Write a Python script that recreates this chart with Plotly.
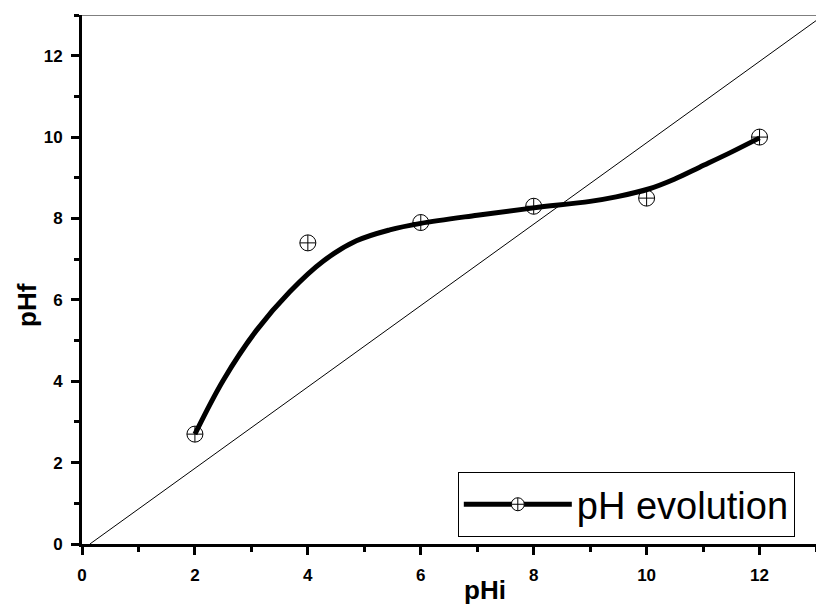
import plotly.graph_objects as go

# measured points
ph_initial = [2, 4, 6, 8, 10, 12]
ph_final = [2.7, 7.4, 7.9, 8.3, 8.5, 10.0]

# smoothed curve
curve_x = [2.0, 2.5, 3.09, 3.68, 4.27, 4.86, 5.45, 6.0, 7.0, 8.0, 9.0, 9.46, 10.05, 10.5, 10.94, 11.5, 12.0]
curve_y = [2.7, 4.02, 5.25, 6.2, 6.95, 7.45, 7.72, 7.88, 8.08, 8.26, 8.42, 8.53, 8.73, 8.97, 9.26, 9.63, 9.98]

# reference diagonal
diag_x = [0.14, 13.0]
diag_y = [0.0, 12.86]

legend_label = "pH evolution"

fig = go.Figure()
fig.add_trace(go.Scatter(x=diag_x, y=diag_y, mode="lines",
                         line=dict(color="black", width=1), showlegend=False, hoverinfo="skip"))
fig.add_trace(go.Scatter(x=curve_x, y=curve_y, mode="lines", line_shape="spline",
                         line=dict(color="black", width=5, smoothing=1.0), showlegend=False))
fig.add_trace(go.Scatter(x=ph_initial, y=ph_final, mode="markers",
                         marker=dict(symbol="circle-cross-open", size=16, color="black",
                                     line=dict(width=1)),
                         showlegend=False))
fig.add_trace(go.Scatter(x=[None], y=[None], mode="lines+markers", name=legend_label,
                         line=dict(color="black", width=5),
                         marker=dict(symbol="circle-cross", size=13, color="white",
                                     line=dict(width=1, color="black"))))

axis_common = dict(
    range=[0, 13], dtick=2, tick0=0, showgrid=False, zeroline=False,
    showline=True, linecolor="black", linewidth=3, automargin=False,
    ticks="outside", ticklen=8, tickwidth=3, tickcolor="black",
    tickfont=dict(family="Liberation Sans, Arial", size=17, color="black", weight="bold"),
    minor=dict(ticks="outside", ticklen=5, tickwidth=3, tickcolor="black", dtick=1, showgrid=False),
)

fig.update_layout(
    width=816, height=605, autosize=False,
    margin=dict(l=82, r=0, t=15, b=61, pad=0),
    paper_bgcolor="white", plot_bgcolor="white",
    xaxis=dict(**axis_common, ticklabelstandoff=6),
    yaxis=dict(**axis_common, ticklabelstandoff=5),
    legend=dict(x=0.512, y=0.136, xanchor="left", yanchor="top",
                bordercolor="black", borderwidth=1, bgcolor="white",
                font=dict(family="Liberation Sans, Arial", size=38, color="black"),
                itemwidth=108),
    shapes=[dict(type="line", xref="paper", yref="y", x0=0, x1=1, y0=13, y1=13,
                 line=dict(color="black", width=1))],
    annotations=[
        dict(text="<b>pHi</b>", xref="paper", yref="paper", x=(485 - 82) / 734, y=(544 - 590) / 529,
             xanchor="center", yanchor="middle", showarrow=False,
             font=dict(family="Liberation Sans, Arial", size=26, color="black")),
        dict(text="<b>pHf</b>", xref="paper", yref="paper", x=(27 - 82) / 734, y=(544 - 305) / 529,
             xanchor="center", yanchor="middle", showarrow=False, textangle=-90,
             font=dict(family="Liberation Sans, Arial", size=26, color="black")),
    ],
)

fig.write_html("out.html", config={"displayModeBar": False},
               post_script="document.body.style.margin='0';document.body.style.overflow='hidden';")
